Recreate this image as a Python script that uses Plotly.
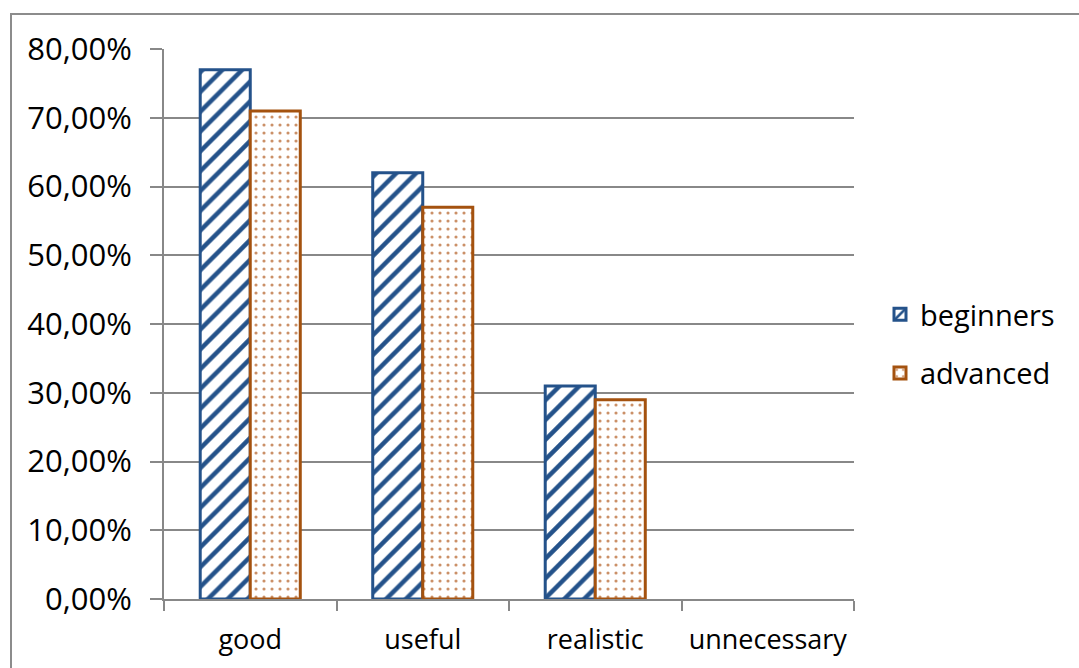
import plotly.graph_objects as go

categories = ["good", "useful", "realistic", "unnecessary"]
beginners = [0.77, 0.62, 0.31, 0.0]
advanced = [0.71, 0.57, 0.29, 0.0]
y_ticks = [0.0, 0.1, 0.2, 0.3, 0.4, 0.5, 0.6, 0.7, 0.8]

W, H = 1079, 668
ML, MR, MT, MB = 164, 225, 49, 69
pw, ph = W - ML - MR, H - MT - MB

FONT = "Open Sans"
GRID = "#888888"


def outline_widths(values, width):
    # no outline on empty bars
    return [width if v > 0 else 0 for v in values]


fig = go.Figure()
fig.add_trace(go.Bar(
    name="beginners", x=categories, y=beginners, legendgroup="b",
    marker=dict(
        color="white",
        line=dict(color="#24528A", width=outline_widths(beginners, 3)),
        pattern=dict(shape="/", fgcolor="#24528A", bgcolor="white",
                     size=14, solidity=0.32, fillmode="replace"),
    ),
))
fig.add_trace(go.Bar(
    name="advanced", x=categories, y=advanced, legendgroup="a",
    marker=dict(
        color="white",
        line=dict(color="#A4520F", width=outline_widths(advanced, 3)),
        pattern=dict(shape=".", fgcolor="#CB9067", bgcolor="white",
                     size=8, solidity=0.12, fillmode="replace"),
    ),
))

# outer chart-area frame
def px_x(v):
    return (v - ML) / pw

def px_y(v):
    return (H - MB - v) / ph

fig.add_shape(type="rect", xref="paper", yref="paper",
              x0=px_x(11), x1=px_x(1090), y0=px_y(14), y1=px_y(680),
              line=dict(color="#8C8C8C", width=2), fillcolor="rgba(0,0,0,0)",
              layer="below")

fig.update_layout(
    width=W, height=H,
    margin=dict(l=ML, r=MR, t=MT, b=MB, pad=0, autoexpand=False),
    paper_bgcolor="white", plot_bgcolor="white",
    separators=",.",
    barmode="group", bargap=0.42, bargroupgap=0,
    font=dict(family=FONT, size=29, color="black"),
    showlegend=True,
    legend=dict(x=px_x(880), y=px_y(344), xanchor="left", yanchor="middle",
                font=dict(family=FONT, size=29, color="black"),
                itemwidth=30, tracegroupgap=18, bgcolor="rgba(0,0,0,0)"),
    xaxis=dict(
        showline=True, linecolor=GRID, linewidth=2,
        ticks="outside", tickson="boundaries", ticklen=10,
        tickcolor=GRID, tickwidth=2, showgrid=False,
        tickfont=dict(family=FONT, size=27, color="black"),
        ticklabelstandoff=16, tickangle=0, automargin=False,
    ),
    yaxis=dict(
        range=[0, 0.8], tickvals=y_ticks, tickformat=".2%",
        showline=True, linecolor=GRID, linewidth=2,
        ticks="outside", ticklen=12, tickcolor=GRID, tickwidth=2,
        showgrid=True, gridcolor=GRID, gridwidth=2, zeroline=False,
        tickfont=dict(family=FONT, size=31, color="black"),
        ticklabelstandoff=12, automargin=False,
    ),
)

fig.write_html("out.html")
